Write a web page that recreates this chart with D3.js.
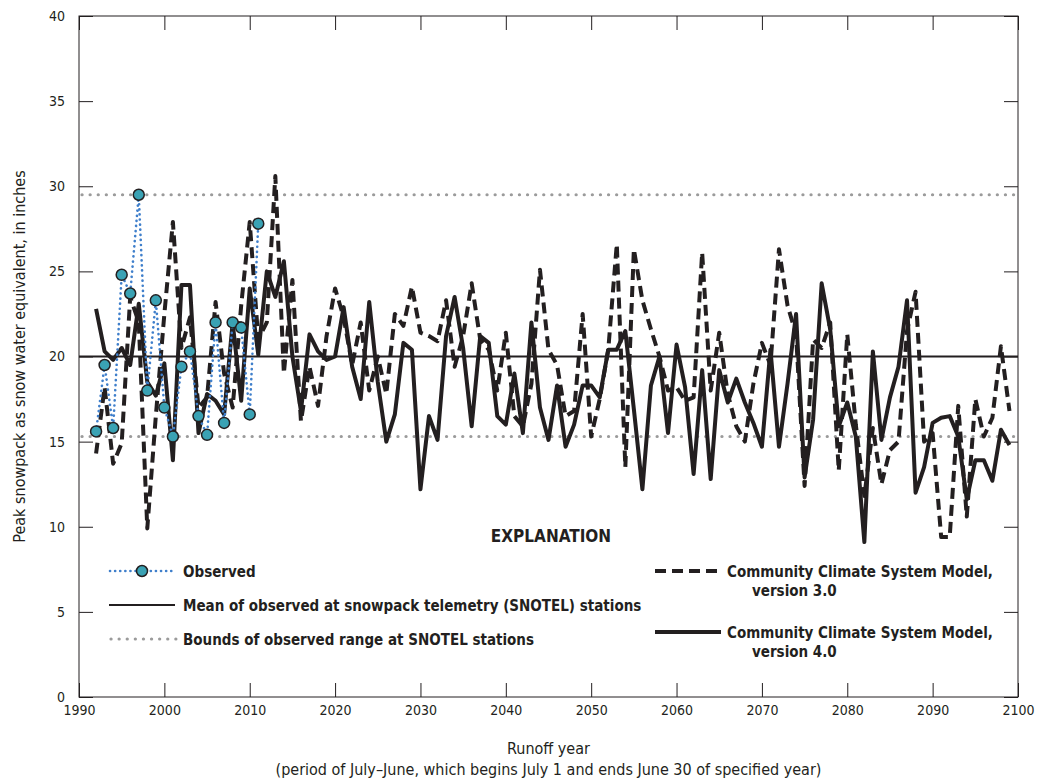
<!DOCTYPE html>
<html>
<head>
<meta charset="utf-8">
<script src="https://cdn.jsdelivr.net/npm/d3@7"></script>
<style>
  body { margin: 0; background: #fff; }
  text { font-family: "Liberation Sans Narrow", "DejaVu Sans Condensed", "Arial Narrow", sans-serif; fill: #231f20; }
</style>
</head>
<body>
<div id="chart"></div>
<script>
// data
let modelYears = d3.range(1992, 2100)
let ccsm3 = [
  14.3, 18.2, 13.7, 14.9, 23.5, 22.0, 9.9, 16.5,
  22.5, 27.9, 20.5, 22.3, 17.0, 17.6, 23.2, 19.0, 17.0, 23.0,
  27.9, 21.0, 22.0, 30.6, 19.0, 24.5, 16.2, 19.4, 17.1, 21.2,
  24.0, 22.3, 19.5, 22.0, 18.0, 20.0, 17.8, 22.5, 21.8, 24.1,
  21.4, 21.2, 20.9, 23.3, 19.4, 21.2, 24.3, 21.0, 20.4, 18.0,
  21.4, 16.5, 15.9, 18.4, 25.1, 20.4, 19.5, 16.5, 16.8, 22.5,
  15.3, 17.5, 20.4, 26.6, 13.5, 26.3, 23.3, 21.6, 20.0, 18.0,
  18.2, 17.4, 17.6, 26.1, 18.0, 21.4, 17.8, 15.9, 15.0, 18.4,
  20.8, 19.5, 26.3, 23.0, 21.3, 12.4, 21.0, 20.5, 22.0, 13.3,
  21.3, 16.0, 11.8, 15.8, 12.5, 14.5, 15.0, 21.5, 23.8, 15.0,
  15.5, 9.4, 9.4, 17.1, 10.6, 17.5, 15.3, 16.4, 20.6, 16.8
]
let ccsm4 = [
  22.8, 20.3, 19.8, 20.5, 19.5, 23.1, 18.5, 17.7,
  19.6, 13.9, 24.2, 24.2, 15.5, 17.8, 17.4, 16.6, 22.0, 17.4,
  24.0, 20.1, 25.0, 23.5, 25.6, 20.0, 16.8, 21.3, 20.3, 19.8,
  20.0, 22.9, 19.4, 17.5, 23.2, 18.5, 15.0, 16.6, 20.8, 20.4,
  12.2, 16.5, 15.1, 21.2, 23.5, 20.5, 15.9, 21.2, 20.8, 16.5,
  16.0, 19.0, 15.5, 22.0, 17.0, 15.1, 18.3, 14.7, 16.0, 18.3,
  18.3, 17.6, 20.4, 20.4, 21.5, 16.9, 12.2, 18.3, 20.0, 15.5,
  20.7, 18.2, 13.1, 19.2, 12.8, 19.2, 17.3, 18.7, 17.3, 16.1,
  14.7, 20.4, 14.7, 18.4, 22.5, 12.9, 16.3, 24.3, 21.6, 15.9,
  17.3, 15.3, 9.1, 20.3, 15.1, 17.6, 19.4, 23.3, 12.0, 13.5,
  16.1, 16.4, 16.5, 15.3, 11.6, 13.9, 13.9, 12.7, 15.7, 14.8
]
let obsYears = d3.range(1992, 2012)
let observed = [15.6, 19.5, 15.8, 24.8, 23.7, 29.5, 18.0, 23.3, 17.0, 15.3,
  19.4, 20.3, 16.5, 15.4, 22.0, 16.1, 22.0, 21.7, 16.6, 27.8]
let snotelMean = 20.0
let snotelBounds = [15.3, 29.5]
let xTicks = d3.range(1990, 2101, 10)
let yTicks = d3.range(0, 41, 5)

let width = 1039, height = 782
let plotLeft = 79, plotRight = 1018, plotTop = 16, plotBottom = 697
let ink = "#231f20"

const svg = d3.select("#chart").append("svg").attr("width", width).attr("height", height)

let x = d3.scaleLinear().domain([1990, 2100]).range([plotLeft, plotRight])
let y = d3.scaleLinear().domain([0, 40]).range([plotBottom, plotTop])

//BEGIN: AXES
svg.append("rect").attr("x", plotLeft).attr("y", plotTop)
  .attr("width", plotRight - plotLeft).attr("height", plotBottom - plotTop)
  .attr("fill", "none").attr("stroke", ink).attr("stroke-width", 1)

const styleAxis = g => {
  g.select(".domain").remove()
  g.selectAll(".tick line").attr("stroke", ink).attr("stroke-width", 1)
  g.selectAll(".tick text").attr("font-size", 14).attr("fill", ink)
    .style("font-family", '"Liberation Sans Narrow", "DejaVu Sans Condensed", sans-serif')
}
svg.append("g").attr("transform", `translate(0,${plotBottom})`)
  .call(d3.axisBottom(x).tickValues(xTicks).tickFormat(d3.format("d")).tickSizeInner(-14).tickPadding(8))
  .call(styleAxis)
svg.append("g").attr("transform", `translate(0,${plotTop})`)
  .call(d3.axisTop(x).tickValues(xTicks).tickSizeInner(-14).tickFormat(""))
  .call(styleAxis)
svg.append("g").attr("transform", `translate(${plotLeft},0)`)
  .call(d3.axisLeft(y).tickValues(yTicks).tickSizeInner(-14).tickPadding(14))
  .call(styleAxis)
svg.append("g").attr("transform", `translate(${plotRight},0)`)
  .call(d3.axisRight(y).tickValues(yTicks).tickSizeInner(-14).tickFormat(""))
  .call(styleAxis)

svg.append("text").attr("transform", `translate(25,${(plotTop + plotBottom) / 2}) rotate(-90)`)
  .attr("text-anchor", "middle").attr("font-size", 16)
  .text("Peak snowpack as snow water equivalent, in inches")
svg.append("text").attr("x", (plotLeft + plotRight) / 2).attr("y", 754).attr("text-anchor", "middle").attr("font-size", 16)
  .text("Runoff year")
svg.append("text").attr("x", (plotLeft + plotRight) / 2).attr("y", 775).attr("text-anchor", "middle").attr("font-size", 16)
  .text("(period of July\u2013June, which begins July 1 and ends June 30 of specified year)")
//END: AXES

//BEGIN: REFERENCE LINES
snotelBounds.forEach(b => {
  svg.append("line").attr("x1", plotLeft + 3).attr("x2", plotRight).attr("y1", y(b)).attr("y2", y(b))
    .attr("stroke", "#9b9b9b").attr("stroke-width", 3.2).attr("stroke-linecap", "round")
    .attr("stroke-dasharray", "0.1 8")
})
svg.append("line").attr("x1", plotLeft).attr("x2", plotRight).attr("y1", y(snotelMean)).attr("y2", y(snotelMean))
  .attr("stroke", ink).attr("stroke-width", 2)
//END: REFERENCE LINES

//BEGIN: SERIES
let line = d3.line().x(d => x(d[0])).y(d => y(d[1]))
let s3 = modelYears.map((yr, i) => [yr, ccsm3[i]])
let s4 = modelYears.map((yr, i) => [yr, ccsm4[i]])
let so = obsYears.map((yr, i) => [yr, observed[i]])

svg.append("path").datum(s4).attr("d", line).attr("fill", "none")
  .attr("stroke", ink).attr("stroke-width", 4).attr("stroke-linejoin", "round")
svg.append("path").datum(s3).attr("d", line).attr("fill", "none")
  .attr("stroke", ink).attr("stroke-width", 4).attr("stroke-linejoin", "round")
  .attr("stroke-dasharray", "11 6")
svg.append("path").datum(so).attr("d", line).attr("fill", "none")
  .attr("stroke", "#3f7fcb").attr("stroke-width", 2.6).attr("stroke-linecap", "round")
  .attr("stroke-dasharray", "0.1 5")
svg.selectAll("circle.obs").data(so).enter().append("circle").attr("class", "obs")
  .attr("cx", d => x(d[0])).attr("cy", d => y(d[1])).attr("r", 5.5)
  .attr("fill", "#3aa2b4").attr("stroke", ink).attr("stroke-width", 1.5)
//END: SERIES

//BEGIN: LEGEND
let lg = svg.append("g")
lg.append("text").attr("x", 551).attr("y", 542).attr("text-anchor", "middle")
  .attr("font-size", 17).attr("font-weight", "bold").text("EXPLANATION")

const legendText = (tx, ty, lines) => {
  lines.forEach((t, i) => {
    lg.append("text").attr("x", tx + (i ? 25 : 0)).attr("y", ty + 6 + i * 19)
      .attr("font-size", 15).attr("font-weight", "bold").text(t)
  })
}
// observed
lg.append("line").attr("x1", 110).attr("x2", 176).attr("y1", 571).attr("y2", 571)
  .attr("stroke", "#3f7fcb").attr("stroke-width", 2.6).attr("stroke-linecap", "round").attr("stroke-dasharray", "0.1 5")
lg.append("circle").attr("cx", 142).attr("cy", 571).attr("r", 5.5)
  .attr("fill", "#3aa2b4").attr("stroke", ink).attr("stroke-width", 1.5)
legendText(183, 571, ["Observed"])
// mean
lg.append("line").attr("x1", 109).attr("x2", 175).attr("y1", 605).attr("y2", 605)
  .attr("stroke", ink).attr("stroke-width", 2)
legendText(183, 605, ["Mean of observed at snowpack telemetry (SNOTEL) stations"])
// bounds
lg.append("line").attr("x1", 111).attr("x2", 176).attr("y1", 639).attr("y2", 639)
  .attr("stroke", "#9b9b9b").attr("stroke-width", 3.2).attr("stroke-linecap", "round").attr("stroke-dasharray", "0.1 8")
legendText(183, 639, ["Bounds of observed range at SNOTEL stations"])
// ccsm3
lg.append("line").attr("x1", 655).attr("x2", 721).attr("y1", 571).attr("y2", 571)
  .attr("stroke", ink).attr("stroke-width", 4).attr("stroke-dasharray", "11 6")
legendText(727, 571, ["Community Climate System Model,", "version 3.0"])
// ccsm4
lg.append("line").attr("x1", 655).attr("x2", 721).attr("y1", 632).attr("y2", 632)
  .attr("stroke", ink).attr("stroke-width", 4)
legendText(727, 632, ["Community Climate System Model,", "version 4.0"])
//END: LEGEND
</script>
</body>
</html>
